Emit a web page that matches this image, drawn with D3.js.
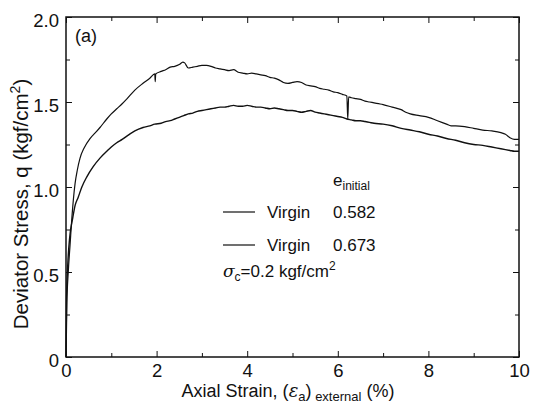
<!DOCTYPE html>
<html><head><meta charset="utf-8">
<script src="https://cdn.jsdelivr.net/npm/d3@7"></script>
<style>
body{margin:0;background:#fff;}
text{font-family:"Liberation Sans",Arial,Helvetica,sans-serif;fill:#111;}
</style></head>
<body><svg id="c" width="533" height="405"></svg>
<script>
// Series: e_initial = 0.582 (upper curve)
const strainA = [0,0.01,0.02,0.05,0.09,0.13,0.2,0.25,0.31,0.4,0.53,0.65,0.75,0.9,1.0,1.12,1.24,1.35,1.52,1.7,1.85,1.96,1.97,1.98,2.1,2.2,2.3,2.4,2.5,2.58,2.62,2.7,2.8,2.9,3.0,3.1,3.2,3.3,3.4,3.5,3.6,3.7,3.8,3.9,4.0,4.1,4.2,4.3,4.4,4.5,4.6,4.7,4.8,4.9,5.0,5.1,5.2,5.3,5.4,5.5,5.6,5.7,5.8,5.9,6.0,6.1,6.2,6.22,6.24,6.3,6.4,6.5,6.6,6.7,6.8,6.9,7.0,7.2,7.4,7.5,7.6,7.8,8.0,8.2,8.4,8.5,8.6,8.8,9.0,9.2,9.4,9.6,9.7,9.8,9.9,10];
const stressA = [0,0.15,0.32,0.5,0.66,0.82,1.02,1.1,1.17,1.23,1.285,1.32,1.35,1.40,1.43,1.46,1.49,1.52,1.57,1.61,1.64,1.665,1.62,1.665,1.68,1.69,1.705,1.71,1.72,1.735,1.73,1.70,1.705,1.71,1.715,1.715,1.71,1.70,1.695,1.69,1.685,1.69,1.675,1.67,1.665,1.67,1.665,1.66,1.655,1.645,1.64,1.63,1.615,1.61,1.615,1.62,1.615,1.60,1.595,1.59,1.58,1.575,1.57,1.56,1.555,1.545,1.535,1.40,1.53,1.525,1.52,1.515,1.505,1.50,1.495,1.49,1.485,1.47,1.455,1.44,1.43,1.42,1.41,1.39,1.37,1.36,1.36,1.355,1.345,1.335,1.33,1.32,1.31,1.29,1.28,1.28];
// Series: e_initial = 0.673 (lower curve)
const strainB = [0,0.005,0.01,0.02,0.04,0.08,0.15,0.2,0.27,0.35,0.46,0.6,0.75,0.9,1.0,1.12,1.24,1.4,1.52,1.7,1.85,1.96,2.1,2.2,2.3,2.4,2.5,2.6,2.7,2.8,2.9,3.0,3.1,3.2,3.3,3.4,3.5,3.6,3.7,3.8,3.9,4.0,4.1,4.2,4.3,4.4,4.5,4.6,4.7,4.8,4.9,5.0,5.1,5.2,5.3,5.4,5.5,5.6,5.7,5.8,5.9,6.0,6.1,6.2,6.3,6.4,6.5,6.6,6.7,6.8,7.0,7.2,7.4,7.6,7.8,8.0,8.2,8.4,8.6,8.8,9.0,9.2,9.4,9.6,9.8,9.9,10];
const stressB = [0,0.15,0.3,0.42,0.55,0.7,0.82,0.89,0.94,1.0,1.06,1.12,1.17,1.21,1.235,1.26,1.28,1.31,1.33,1.35,1.36,1.37,1.375,1.385,1.39,1.40,1.41,1.42,1.43,1.435,1.445,1.45,1.455,1.46,1.465,1.47,1.47,1.475,1.48,1.475,1.475,1.48,1.475,1.47,1.47,1.465,1.46,1.465,1.46,1.455,1.45,1.45,1.445,1.44,1.445,1.45,1.44,1.435,1.43,1.425,1.42,1.415,1.41,1.40,1.395,1.39,1.39,1.385,1.38,1.375,1.37,1.36,1.345,1.335,1.325,1.31,1.30,1.285,1.275,1.26,1.25,1.245,1.235,1.225,1.215,1.21,1.21];
const xTicks = [0,2,4,6,8,10];
const xMinor = [1,3,5,7,9];
const yTicks = [0,0.5,1.0,1.5,2.0];
const yTickLabels = ["0","0.5","1.0","1.5","2.0"];
const yMinor = [0.25,0.75,1.25,1.75];
const legendLabels = ["Virgin","Virgin"];
const legendValues = ["0.582","0.673"];

const svg = d3.select("#c");
const L=66,R=519,T=17,B=357;
const x = d3.scaleLinear().domain([0,10]).range([L,R]);
const y = d3.scaleLinear().domain([0,2]).range([B,T]);

const line = d3.line().x(d=>x(d[0])).y(d=>y(d[1])).curve(d3.curveMonotoneX);
const dataA = strainA.map((v,i)=>[v,stressA[i]]);
const dataB = strainB.map((v,i)=>[v,stressB[i]]);
svg.append("path").datum(dataA).attr("d",line).attr("fill","none").attr("stroke","#111").attr("stroke-width",1.2);
svg.append("path").datum(dataB).attr("d",line).attr("fill","none").attr("stroke","#111").attr("stroke-width",1.4);

// frame
svg.append("rect").attr("x",L).attr("y",T).attr("width",R-L).attr("height",B-T).attr("fill","none").attr("stroke","#111").attr("stroke-width",1.5);

// axes (inward ticks)
const fmtY = d=>yTickLabels[yTicks.indexOf(d)];
svg.append("g").attr("class","xb").attr("transform",`translate(0,${B})`).call(d3.axisBottom(x).tickValues(xTicks).tickSize(-6).tickPadding(7).tickFormat(d3.format("d")));
svg.append("g").attr("class","yl").attr("transform",`translate(${L},0)`).call(d3.axisLeft(y).tickValues(yTicks).tickSize(-6).tickPadding(7).tickFormat(fmtY));
svg.append("g").attr("transform",`translate(0,${T})`).call(d3.axisTop(x).tickValues(xTicks).tickSize(-6).tickFormat(""));
svg.append("g").attr("transform",`translate(${R},0)`).call(d3.axisRight(y).tickValues(yTicks).tickSize(-6).tickFormat(""));
svg.append("g").attr("transform",`translate(0,${B})`).call(d3.axisBottom(x).tickValues(xMinor).tickSize(-4).tickFormat(""));
svg.append("g").attr("transform",`translate(0,${T})`).call(d3.axisTop(x).tickValues(xMinor).tickSize(-4).tickFormat(""));
svg.append("g").attr("transform",`translate(${L},0)`).call(d3.axisLeft(y).tickValues(yMinor).tickSize(-4).tickFormat(""));
svg.append("g").attr("transform",`translate(${R},0)`).call(d3.axisRight(y).tickValues(yMinor).tickSize(-4).tickFormat(""));
svg.selectAll(".domain").remove();
svg.selectAll(".tick line").attr("stroke","#111").attr("stroke-width",1);
svg.selectAll(".tick text").style("font-size","18.5px").attr("font-family","Liberation Sans, Arial, sans-serif").attr("fill","#111");
svg.selectAll(".yl .tick text").attr("dy","0.5em");

// axis titles
const xt = svg.append("text").attr("x",288).attr("y",397).attr("text-anchor","middle").style("font-size","18px");
xt.append("tspan").text("Axial Strain, (");
xt.append("tspan").text("ε").style("font-style","italic").style("font-family","DejaVu Serif");
xt.append("tspan").text("a").attr("dy",4).style("font-size","13px");
xt.append("tspan").text(")").attr("dy",-4);
xt.append("tspan").text(" external").attr("dy",4).style("font-size","13px");
xt.append("tspan").text(" (%)").attr("dy",-4);

const yt = svg.append("text").attr("transform","translate(28,204) rotate(-90)").attr("text-anchor","middle").style("font-size","20.5px");
yt.append("tspan").text("Deviator Stress, q (kgf/cm");
yt.append("tspan").text("2").attr("dy",-8).style("font-size","14px");
yt.append("tspan").text(")").attr("dy",8);

svg.append("text").attr("x",75).attr("y",42).style("font-size","18px").text("(a)");

// legend
const lg = svg.append("g");
const et = lg.append("text").attr("x",333).attr("y",186).style("font-size","17px");
et.append("tspan").text("e");
et.append("tspan").text("initial").attr("dy",4).style("font-size","12px");
legendLabels.forEach((lab,i)=>{
  const yy = 212 + i*33;
  lg.append("line").attr("x1",223).attr("x2",255).attr("y1",yy).attr("y2",yy).attr("stroke","#111").attr("stroke-width",1.2);
  lg.append("text").attr("x",267).attr("y",yy+6).style("font-size","17px").text(lab);
  lg.append("text").attr("x",333).attr("y",yy+6).style("font-size","17px").text(legendValues[i]);
});
const st = lg.append("text").attr("x",223).attr("y",277).style("font-size","17px");
st.append("tspan").text("σ").style("font-style","italic").style("font-family","DejaVu Serif");
st.append("tspan").text("c").attr("dy",4).style("font-size","12px");
st.append("tspan").text("=0.2 kgf/cm").attr("dy",-4);
st.append("tspan").text("2").attr("dy",-7).style("font-size","12px");
</script></body></html>
